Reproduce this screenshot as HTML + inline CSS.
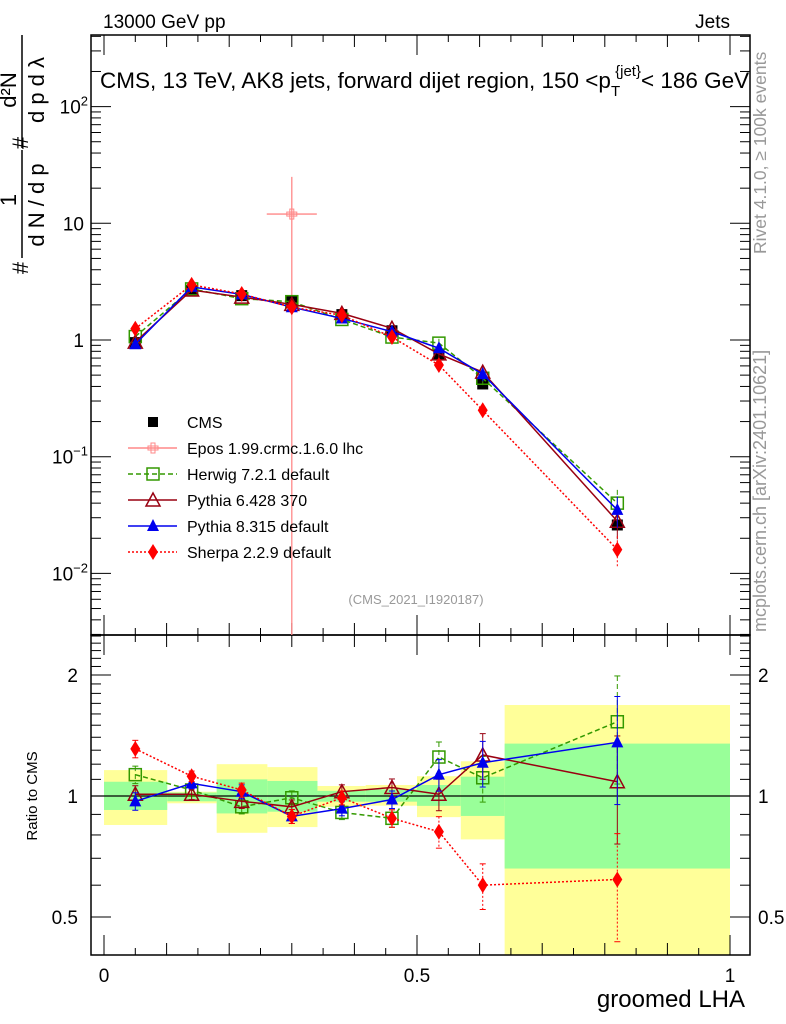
<!DOCTYPE html>
<html><head><meta charset="utf-8"><style>
body{margin:0;background:#fff}
svg{display:block;font-family:"Liberation Sans",sans-serif}
</style></head><body>
<svg id="c" width="786" height="1024" viewBox="0 0 786 1024"></svg>
<script>
const lambdaCenters=[0.05,0.14,0.22,0.30,0.38,0.46,0.535,0.605,0.82];
const binEdges=[0,0.101,0.18,0.261,0.341,0.418,0.5,0.57,0.64,1.0];
const cmsValues=[0.95,2.65,2.4,2.15,1.65,1.2,0.75,0.42,0.026];
const herwigValues=[1.07,2.74,2.26,2.13,1.50,1.06,0.94,0.47,0.040];
const pythia6Values=[0.96,2.68,2.33,2.02,1.69,1.26,0.76,0.53,0.028];
const pythia8Values=[0.92,2.85,2.46,1.91,1.53,1.18,0.85,0.51,0.035];
const sherpaValues=[1.25,2.97,2.48,1.91,1.63,1.06,0.61,0.25,0.016];
const eposValues=[12];const eposX=[0.30];const eposErrUp=[25];
const herwigRatio=[1.13,1.035,0.94,0.99,0.91,0.88,1.25,1.11,1.53];
const pythia6Ratio=[1.01,1.01,0.97,0.94,1.025,1.05,1.01,1.265,1.085];
const pythia8Ratio=[0.97,1.075,1.025,0.89,0.93,0.98,1.13,1.21,1.36];
const sherpaRatio=[1.31,1.12,1.035,0.89,0.99,0.88,0.815,0.60,0.62];
const ratioRelErr=[0.05,0.03,0.04,0.04,0.04,0.05,0.09,0.13,0.3];
const yellowHi=[1.16,1.025,1.20,1.18,1.059,1.065,1.12,1.22,1.684];
const yellowLo=[0.847,0.959,0.81,0.837,0.94,0.946,0.886,0.78,0.3];
const greenHi=[1.085,1.02,1.10,1.09,1.03,1.039,1.065,1.117,1.35];
const greenLo=[0.923,0.97,0.905,0.914,0.968,0.968,0.945,0.892,0.66];
const topTickVals=[0.01,0.1,1,10,100];
const topTickLabels=[["10","−2"],["10","−1"],["1",""],["10",""],["10","2"]];
const ratioTickVals=[0.5,1,2];
const ratioTickLabels=["0.5","1","2"];
const xTickVals=[0,0.5,1];
const xTickLabels=["0","0.5","1"];

const NS="http://www.w3.org/2000/svg";
const svg=document.getElementById('c');
function mk(tag,attrs,parent,text){const e=document.createElementNS(NS,tag);for(const k in attrs)e.setAttribute(k,attrs[k]);if(text!==undefined)e.textContent=text;(parent||svg).appendChild(e);return e;}
const L=91,R=750,T=35,M=635,B=955;
const X=v=>104+626*v;
const Y=v=>340-116.7*Math.log10(v);
const YR=v=>Math.min(B,Math.max(M,796-402*Math.log10(v)));

const bands=mk('g',{});


for(let i=0;i<binEdges.length-1;i++){
  const x1=X(binEdges[i]),x2=X(binEdges[i+1]);
  const yb=mk('rect',{x:x1,y:YR(yellowHi[i]),width:x2-x1,height:YR(yellowLo[i])-YR(yellowHi[i]),fill:'#ffff99'},bands);
  
  
  const gb=mk('rect',{x:x1,y:YR(greenHi[i]),width:x2-x1,height:YR(greenLo[i])-YR(greenHi[i]),fill:'#99ff99'},bands);
  
  
}
mk('line',{x1:L,x2:R,y1:YR(1),y2:YR(1),stroke:'#000','stroke-width':1.3});

mk('rect',{x:L,y:T,width:R-L,height:M-T,fill:'none',stroke:'#000','stroke-width':1.5,});
mk('rect',{x:L,y:M,width:R-L,height:B-M,fill:'none',stroke:'#000','stroke-width':1.5,});

for(let d=-3;d<=2;d++){for(let m=1;m<10;m++){const v=m*Math.pow(10,d);const y=Y(v);if(y<T||y>M)continue;const len=m===1?20:10;
  mk('line',{x1:L,x2:L+len,y1:y,y2:y,stroke:'#000'});mk('line',{x1:R,x2:R-len,y1:y,y2:y,stroke:'#000'});}}
topTickVals.forEach((v,i)=>{const t=mk('text',{x:84,y:Y(v)+7,'text-anchor':'end','font-size':19});
  
  const lb=topTickLabels[i];
  if(lb[1]){mk('tspan',{},t,lb[0]);mk('tspan',{dy:-8,'font-size':13},t,lb[1]);t.setAttribute('x',88);}else t.textContent=lb[0];});
for(let v=0.3;v<=2.6;v+=0.1){const y=YR(v);if(y<=M+1||y>=B-1)continue;const major=[0.5,1,2].some(a=>Math.abs(a-v)<1e-6);const len=major?20:10;
  mk('line',{x1:L,x2:L+len,y1:y,y2:y,stroke:'#000'});mk('line',{x1:R,x2:R-len,y1:y,y2:y,stroke:'#000'});}
ratioTickVals.forEach((v,i)=>{
  const a=mk('text',{x:78,y:YR(v)+7,'text-anchor':'end','font-size':19},svg,ratioTickLabels[i]);
  
  const b=mk('text',{x:758,y:YR(v)+7,'font-size':19},svg,ratioTickLabels[i]);
  });
for(let k=0;k<=20;k++){const v=k*0.05;const x=X(v);const len=(k%10===0)?20:(k%2===0?12:7);
  mk('line',{x1:x,x2:x,y1:B,y2:B-len,stroke:'#000'});mk('line',{x1:x,x2:x,y1:M,y2:M+len,stroke:'#000'});mk('line',{x1:x,x2:x,y1:T,y2:T+len,stroke:'#000'});mk('line',{x1:x,x2:x,y1:M,y2:M-len,stroke:'#000'});}
xTickVals.forEach((v,i)=>{const t=mk('text',{x:X(v),y:982,'text-anchor':'middle','font-size':19},svg,xTickLabels[i]);
  });

function marker(g,type,x,y,col,s){
  s=s||6;
  if(type==='sq')mk('rect',{x:x-s,y:y-s,width:2*s,height:2*s,fill:'#000'},g);
  else if(type==='osq')mk('rect',{x:x-s,y:y-s,width:2*s,height:2*s,fill:'none',stroke:col,'stroke-width':1.5},g);
  else if(type==='otri')mk('polygon',{points:`${x},${y-s-1} ${x-s-1},${y+s} ${x+s+1},${y+s}`,fill:'none',stroke:col,'stroke-width':1.5},g);
  else if(type==='tri')mk('polygon',{points:`${x},${y-s-1} ${x-s},${y+s-1} ${x+s},${y+s-1}`,fill:col},g);
  else if(type==='dia')mk('polygon',{points:`${x},${y-s-2} ${x-s+1},${y} ${x},${y+s+2} ${x+s-1},${y}`,fill:col},g);
  else if(type==='cross'){mk('rect',{x:x-5,y:y-2,width:10,height:4,fill:'none',stroke:col},g);mk('rect',{x:x-2,y:y-5,width:4,height:10,fill:'none',stroke:col},g);}
}
const series=[
 {name:'herwig',vals:herwigValues,ratio:herwigRatio,col:'#339900',dash:'5,3',m:'osq'},
 {name:'pythia6',vals:pythia6Values,ratio:pythia6Ratio,col:'#990011',dash:'',m:'otri'},
 {name:'pythia8',vals:pythia8Values,ratio:pythia8Ratio,col:'#0000ee',dash:'',m:'tri'},
 {name:'sherpa',vals:sherpaValues,ratio:sherpaRatio,col:'#ff0000',dash:'2,2',m:'dia'}];
const eg=mk('g',{});


mk('line',{x1:X(eposX[0]),x2:X(eposX[0]),y1:Y(eposErrUp[0]),y2:M,stroke:'#ff8888','stroke-width':1.3},eg);
mk('line',{x1:X(0.26),x2:X(0.34),y1:Y(eposValues[0]),y2:Y(eposValues[0]),stroke:'#ff8888','stroke-width':1.3},eg);
marker(eg,'cross',X(eposX[0]),Y(eposValues[0]),'#ff8888');
const cg=mk('g',{});


cmsValues.forEach((v,i)=>marker(cg,'sq',X(lambdaCenters[i]),Y(v),'#000',5.5));
series.forEach(s=>{
  const g=mk('g',{});
  
  
  mk('polyline',{points:s.vals.map((v,i)=>X(lambdaCenters[i])+','+Y(v)).join(' '),fill:'none',stroke:s.col,'stroke-width':1.5,'stroke-dasharray':s.dash},g);
  s.vals.forEach((v,i)=>{const x=X(lambdaCenters[i]);const e=ratioRelErr[i];
    mk('line',{x1:x,x2:x,y1:Y(v*(1+e)),y2:Y(v*(1-e)),stroke:s.col,'stroke-dasharray':s.dash},g);
    marker(g,s.m,x,Y(v),s.col);});
  const rg=mk('g',{});
  
  
  mk('polyline',{points:s.ratio.map((v,i)=>X(lambdaCenters[i])+','+YR(v)).join(' '),fill:'none',stroke:s.col,'stroke-width':1.5,'stroke-dasharray':s.dash},rg);
  s.ratio.forEach((v,i)=>{const x=X(lambdaCenters[i]);const e=ratioRelErr[i];
    mk('line',{x1:x,x2:x,y1:YR(v*(1+e)),y2:YR(v*(1-e)),stroke:s.col,'stroke-dasharray':s.dash},rg);
    mk('line',{x1:x-3,x2:x+3,y1:YR(v*(1+e)),y2:YR(v*(1+e)),stroke:s.col},rg);
    mk('line',{x1:x-3,x2:x+3,y1:YR(v*(1-e)),y2:YR(v*(1-e)),stroke:s.col},rg);
    marker(rg,s.m,x,YR(v),s.col);});
});
const legend=[['CMS','sq','#000',''],['Epos 1.99.crmc.1.6.0 lhc','cross','#ff8888',''],['Herwig 7.2.1 default','osq','#339900','5,3'],['Pythia 6.428 370','otri','#990011',''],['Pythia 8.315 default','tri','#0000ee',''],['Sherpa 2.2.9 default','dia','#ff0000','2,2']];
legend.forEach((l,i)=>{const y=422+26*i;const g=mk('g',{});
  
  
  if(i>0)mk('line',{x1:128,x2:177,y1:y,y2:y,stroke:l[2],'stroke-width':1.5,'stroke-dasharray':l[3]},g);
  marker(g,l[1],153,y,l[2],l[1]==='sq'?5:6);
  mk('text',{x:187,y:y+6,'font-size':16},g,l[0]);});

function txt(name,a,s){const t=mk('text',a,svg,s);return t;}
txt('energy-label',{x:103,y:28,'font-size':19},'13000 GeV pp');
txt('jets-label',{x:730,y:28,'font-size':19,'text-anchor':'end'},'Jets');
const tt=txt('plot-title',{x:100,y:88,'font-size':22.5},'CMS, 13 TeV, AK8 jets, forward dijet region, 150 <p');
mk('tspan',{dy:8,'font-size':15},tt,'T');mk('tspan',{dy:-20,dx:-5,'font-size':15},tt,'{jet}');mk('tspan',{dy:12},tt,'< 186 GeV');
txt('analysis-id',{x:416,y:604,'font-size':13,fill:'#999','text-anchor':'middle'},'(CMS_2021_I1920187)');
txt('x-axis-title',{x:745,y:1007,'font-size':24,'text-anchor':'end'},'groomed LHA');
txt('ratio-axis-title',{x:0,y:0,'font-size':15,transform:'translate(37,796) rotate(-90)','text-anchor':'middle'},'Ratio to CMS');
txt('rivet-label',{x:0,y:0,'font-size':17.5,fill:'#999',transform:'translate(766,254) rotate(-90)'},'Rivet 4.1.0, ≥ 100k events');
txt('mcplots-label',{x:0,y:0,'font-size':18,fill:'#999',transform:'translate(766,632) rotate(-90)'},'mcplots.cern.ch [arXiv:2401.10621]');
const yt=mk('g',{transform:'rotate(-90)'});


mk('line',{x1:-258,x2:-150,y1:22,y2:22,stroke:'#000','stroke-width':1.5},yt);
mk('text',{x:-200,y:16,'font-size':22,'text-anchor':'middle'},yt,'1');
mk('text',{x:-205,y:44,'font-size':22,'text-anchor':'middle'},yt,'d N / d p');
mk('text',{x:-268,y:28,'font-size':22,'text-anchor':'middle'},yt,'#');
mk('line',{x1:-148,x2:-35,y1:22,y2:22,stroke:'#000','stroke-width':1.5},yt);
mk('text',{x:-90,y:16,'font-size':22,'text-anchor':'middle'},yt,'d²N');
mk('text',{x:-90,y:44,'font-size':22,'text-anchor':'middle'},yt,'d p  d λ');
mk('text',{x:-143,y:28,'font-size':22,'text-anchor':'middle'},yt,'#');
</script>
</body></html>
